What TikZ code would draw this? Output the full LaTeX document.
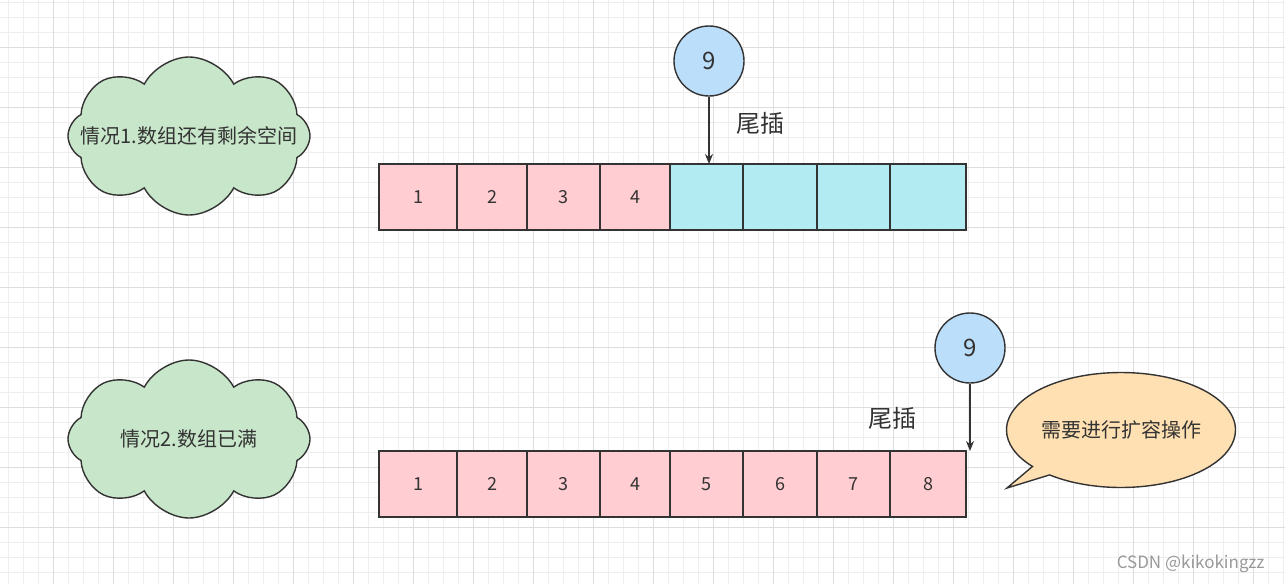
\documentclass[tikz,border=0pt]{standalone}
\usepackage{fontspec}
\setmainfont{Noto Sans CJK SC}
\usetikzlibrary{shapes.symbols,shapes.callouts,positioning,arrows.meta}
\usepackage{xcolor}
\definecolor{linegray}{HTML}{333333}
\definecolor{cellpink}{HTML}{FFCDD2}
\definecolor{cellcyan}{HTML}{B2EBF2}
\definecolor{ballblue}{HTML}{BBDEFB}
\definecolor{cloudgreen}{HTML}{C8E6C9}
\definecolor{notepeach}{HTML}{FFE0B2}
\definecolor{gridlight}{HTML}{EEEEEE}
\definecolor{griddark}{HTML}{DDDDDD}

\begin{document}
\begin{tikzpicture}[
    x=1pt, y=1pt,
    gridminor/.style={draw=gridlight, line width=0.8pt},
    gridmajor/.style={draw=griddark, line width=0.8pt},
    cell/.style={rectangle, draw=linegray, line width=1.4pt, minimum height=66pt, inner sep=0pt, outer sep=0pt, text=linegray, font=\fontsize{18}{21}\selectfont},
    usedcell/.style={cell, fill=cellpink},
    freecell/.style={cell, fill=cellcyan},
    ball/.style={circle, draw=linegray, line width=1.4pt, fill=ballblue, minimum size=70pt, inner sep=0pt, text=linegray, font=\fontsize{24}{28}\selectfont},
    idea/.style={cloud, cloud puffs=8, cloud puff arc=125, cloud ignores aspect, draw=linegray, line width=1.4pt, fill=cloudgreen, minimum width=242pt, minimum height=158pt, inner sep=0pt, label={[text=linegray, font=\fontsize{20}{24}\selectfont]center:#1}},
    note/.style={ellipse callout, draw=linegray, line width=1.4pt, fill=notepeach, minimum width=229pt, minimum height=115pt, inner sep=0pt, callout pointer arc=12, text=linegray, font=\fontsize{20}{24}\selectfont},
    tag/.style={text=linegray, font=\fontsize{24}{28}\selectfont},
    arrow/.style={->, >={Stealth[length=10pt, width=8pt]}, line width=1.4pt, draw=linegray}
]

% Canvas and grid
\useasboundingbox (0,0) rectangle (1285,-584);
\fill[white] (0,0) rectangle (1285,-584);
\begin{scope}[shift={(8,-2)}]
\draw[gridminor, step=15] (-8,-582) grid (1277,2);
\end{scope}
\begin{scope}[shift={(53,-47)}]
\draw[gridmajor, step=60] (-53,-537) grid (1232,47);
\end{scope}

% Case 1: free space left
\node[idea={情况1.数组还有剩余空间}] (case1) at (189,-136) {};
\node[usedcell, minimum width=78pt] (a1) at (418,-197) {1};
\node[usedcell, minimum width=70pt, right=0pt of a1] (a2) {2};
\node[usedcell, minimum width=73pt, right=0pt of a2] (a3) {3};
\node[usedcell, minimum width=70pt, right=0pt of a3] (a4) {4};
\node[freecell, minimum width=73pt, right=0pt of a4] (a5) {};
\node[freecell, minimum width=74pt, right=0pt of a5] (a6) {};
\node[freecell, minimum width=73pt, right=0pt of a6] (a7) {};
\node[freecell, minimum width=76pt, right=0pt of a7] (a8) {};
\node[ball] (ball1) at (709,-61) {9};
\node[tag] (tail1) at (760,-123) {尾插};

% Case 2: array full
\node[idea={情况2.数组已满}] (case2) at (189,-439) {};
\node[usedcell, minimum width=78pt] (b1) at (418,-484) {1};
\node[usedcell, minimum width=70pt, right=0pt of b1] (b2) {2};
\node[usedcell, minimum width=73pt, right=0pt of b2] (b3) {3};
\node[usedcell, minimum width=70pt, right=0pt of b3] (b4) {4};
\node[usedcell, minimum width=73pt, right=0pt of b4] (b5) {5};
\node[usedcell, minimum width=74pt, right=0pt of b5] (b6) {6};
\node[usedcell, minimum width=73pt, right=0pt of b6] (b7) {7};
\node[usedcell, minimum width=76pt, right=0pt of b7] (b8) {8};
\node[ball] (ball2) at (970,-348) {9};
\node[tag] (tail2) at (892,-418) {尾插};
\coordinate (tip) at (1007,-488);
\node[note, callout absolute pointer={(tip)}] (grow) at (1121,-430) {需要进行扩容操作};

% Arrows
\draw[arrow] (ball1.south) -- (ball1.south |- a5.north);
\draw[arrow] (ball2.south) -- (ball2.south |- b8.north);

% Watermark
\node[anchor=east, text=gray!80, font=\fontsize{17}{20}\selectfont] (mark) at (1268,-564) {CSDN @kikokingzz};

\end{tikzpicture}
\end{document}
